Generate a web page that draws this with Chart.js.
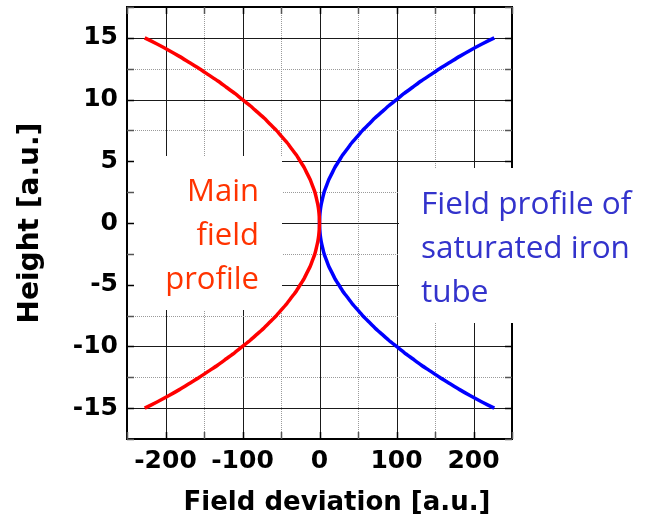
<!DOCTYPE html>
<html>
<head>
<meta charset="utf-8">
<script src="https://cdn.jsdelivr.net/npm/chart.js@4.4.0/dist/chart.umd.min.js"></script>
<style>
  html, body { margin: 0; padding: 0; background: #ffffff; }
  #wrap { width: 646px; height: 518px; }
</style>
</head>
<body>
<div id="wrap"><canvas id="chart" width="646" height="518"></canvas></div>
<script>
// Height positions along the tube
const heights = [-15, -14.5, -14, -13.5, -13, -12.5, -12, -11.5, -11, -10.5, -10, -9.5, -9, -8.5, -8,
                 -7.5, -7, -6.5, -6, -5.5, -5, -4.5, -4, -3.5, -3, -2.5, -2, -1.5, -1, -0.5, 0,
                 0.5, 1, 1.5, 2, 2.5, 3, 3.5, 4, 4.5, 5, 5.5, 6, 6.5, 7, 7.5,
                 8, 8.5, 9, 9.5, 10, 10.5, 11, 11.5, 12, 12.5, 13, 13.5, 14, 14.5, 15];
// Field deviation of the main field profile
const mainField = [-227, -211, -196, -182, -169, -156, -144, -132, -121, -110, -100, -90, -81, -72, -64,
                   -56, -49, -42, -36, -30, -25, -20, -16, -12, -9, -6, -4, -2.2, -1, -0.3, 0,
                   -0.3, -1, -2.2, -4, -6, -9, -12, -16, -20, -25, -30, -36, -42, -49, -56,
                   -64, -72, -81, -90, -100, -110, -121, -132, -144, -156, -169, -182, -196, -211, -227];
// Field deviation of the saturated iron tube profile
const ironField = [227, 211, 196, 182, 169, 156, 144, 132, 121, 110, 100, 90, 81, 72, 64,
                   56, 49, 42, 36, 30, 25, 20, 16, 12, 9, 6, 4, 2.2, 1, 0.3, 0,
                   0.3, 1, 2.2, 4, 6, 9, 12, 16, 20, 25, 30, 36, 42, 49, 56,
                   64, 72, 81, 90, 100, 110, 121, 132, 144, 156, 169, 182, 196, 211, 227];

const xTickLabels = [-200, -100, 0, 100, 200];
const yTickLabels = [-15, -10, -5, 0, 5, 10, 15];

const mainLabel = ['Main', 'field', 'profile'];
const ironLabel = ['Field profile of', 'saturated iron', 'tube'];
const xTitle = 'Field deviation [a.u.]';
const yTitle = 'Height [a.u.]';

const toPoints = (xs) => xs.map((x, i) => ({ x: x, y: heights[i] }));

const boldFont = 'DejaVu Sans';

// Grid, frame, inward ticks, text boxes and annotations
const framePlugin = {
  id: 'frame',
  beforeDatasetsDraw(chart) {
    const { ctx, chartArea: a, scales: { x, y } } = chart;
    ctx.save();
    // grid lines
    x.ticks.forEach(t => {
      const px = Math.round(x.getPixelForValue(t.value)) + 0.5;
      const major = t.value % 100 === 0;
      ctx.beginPath();
      ctx.strokeStyle = major ? '#1a1a1a' : '#9a9a9a';
      ctx.lineWidth = 1;
      ctx.setLineDash(major ? [] : [1, 1]);
      ctx.moveTo(px, a.top); ctx.lineTo(px, a.bottom); ctx.stroke();
    });
    y.ticks.forEach(t => {
      const py = Math.round(y.getPixelForValue(t.value)) + 0.5;
      const major = t.value % 5 === 0;
      ctx.beginPath();
      ctx.strokeStyle = major ? '#1a1a1a' : '#9a9a9a';
      ctx.lineWidth = 1;
      ctx.setLineDash(major ? [] : [1, 1]);
      ctx.moveTo(a.left, py); ctx.lineTo(a.right, py); ctx.stroke();
    });
    ctx.setLineDash([]);

    // white backing behind the left annotation
    ctx.fillStyle = '#ffffff';
    ctx.fillRect(a.left + 2, 156, 282 - (a.left + 2), 154);

    // frame
    ctx.strokeStyle = '#000000';
    ctx.lineWidth = 2;
    ctx.strokeRect(a.left, a.top, a.right - a.left, a.bottom - a.top);

    // inward tick marks
    const tl = 7;
    ctx.lineWidth = 1.5;
    x.ticks.forEach(t => {
      const px = Math.round(x.getPixelForValue(t.value)) + 0.5;
      ctx.strokeStyle = t.value % 100 === 0 ? '#000000' : '#555555';
      ctx.beginPath();
      ctx.moveTo(px, a.bottom); ctx.lineTo(px, a.bottom - tl);
      ctx.moveTo(px, a.top); ctx.lineTo(px, a.top + tl);
      ctx.stroke();
    });
    y.ticks.forEach(t => {
      const py = Math.round(y.getPixelForValue(t.value)) + 0.5;
      ctx.strokeStyle = t.value % 5 === 0 ? '#000000' : '#555555';
      ctx.beginPath();
      ctx.moveTo(a.left, py); ctx.lineTo(a.left + tl, py);
      ctx.moveTo(a.right, py); ctx.lineTo(a.right - tl, py);
      ctx.stroke();
    });

    // white backing behind the right annotation
    ctx.fillStyle = '#ffffff';
    ctx.fillRect(399, 168, 646 - 399, 155);
    ctx.restore();
  },
  afterDatasetsDraw(chart) {
    const { ctx } = chart;
    ctx.save();
    ctx.font = '31px "Open Sans"';
    ctx.textBaseline = 'alphabetic';
    ctx.fillStyle = 'rgb(255, 51, 0)';
    ctx.textAlign = 'right';
    mainLabel.forEach((s, i) => ctx.fillText(s, 259, 201 + i * 44));
    ctx.font = '31.5px "Open Sans"';
    ctx.fillStyle = 'rgb(51, 51, 204)';
    ctx.textAlign = 'left';
    ironLabel.forEach((s, i) => ctx.fillText(s, 421, 214 + i * 44));

    // x-axis title
    ctx.font = 'bold 26px "' + boldFont + '"';
    ctx.fillStyle = '#000000';
    ctx.textAlign = 'center';
    ctx.textBaseline = 'alphabetic';
    ctx.fillText(xTitle, 337, 510);
    ctx.restore();
  }
};

new Chart(document.getElementById('chart'), {
  type: 'scatter',
  data: {
    datasets: [
      {
        label: 'Main field profile',
        data: toPoints(mainField),
        showLine: true,
        borderColor: '#ff0000',
        backgroundColor: '#ff0000',
        borderWidth: 3.5,
        pointRadius: 0,
        tension: 0.2
      },
      {
        label: 'Field profile of saturated iron tube',
        data: toPoints(ironField),
        showLine: true,
        borderColor: '#0000ff',
        backgroundColor: '#0000ff',
        borderWidth: 3.5,
        pointRadius: 0,
        tension: 0.2
      }
    ]
  },
  options: {
    responsive: false,
    animation: false,
    devicePixelRatio: 1,
    layout: { padding: { left: 0, right: 134, top: 7, bottom: 0 } },
    plugins: { legend: { display: false }, tooltip: { enabled: false } },
    scales: {
      x: {
        type: 'linear',
        min: -250, max: 250,
        grid: { display: false, drawTicks: false },
        border: { display: false },
        ticks: {
          stepSize: 50,
          autoSkip: false,
          maxRotation: 0,
          padding: 7,
          color: '#000000',
          font: { family: boldFont, size: 25, weight: 'bold' },
          callback: (v) => xTickLabels.includes(v) ? String(v) : ''
        },
        afterFit: (s) => { s.height = 79; s.paddingLeft = 0; s.paddingRight = 0; }
      },
      y: {
        type: 'linear',
        min: -17.5, max: 17.5,
        grid: { display: false, drawTicks: false },
        border: { display: false },
        ticks: {
          stepSize: 2.5,
          autoSkip: false,
          padding: 9,
          color: '#000000',
          font: { family: boldFont, size: 25, weight: 'bold' },
          callback: (v) => yTickLabels.includes(v) ? String(v) : ''
        },
        title: {
          display: true,
          text: yTitle,
          color: '#000000',
          font: { family: boldFont, size: 28, weight: 'bold' },
          padding: { top: 14, bottom: 0 }
        },
        afterFit: (s) => { s.width = 127; s.paddingTop = 0; s.paddingBottom = 0; }
      }
    }
  },
  plugins: [framePlugin]
});
</script>
</body>
</html>
